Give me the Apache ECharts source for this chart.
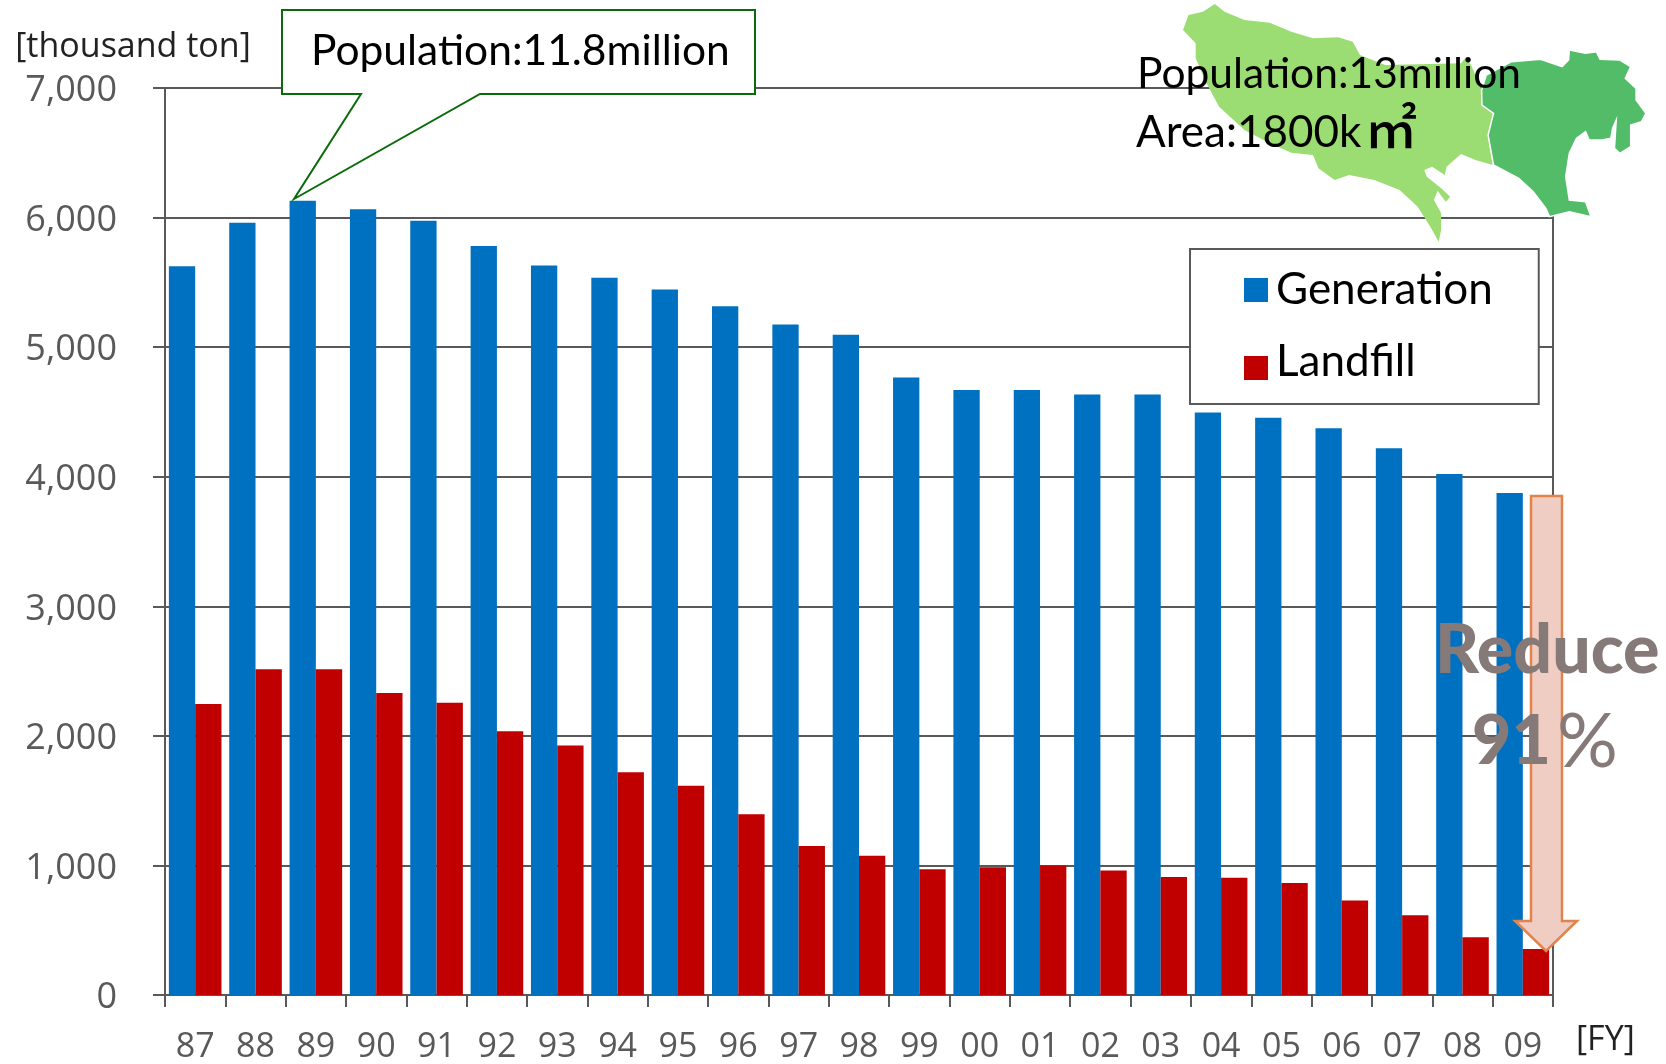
<!DOCTYPE html>
<html>
<head>
<meta charset="utf-8">
<style>
  html, body { margin: 0; padding: 0; background: #fff; }
  #myChart { width: 1666px; height: 1064px; }
</style>
<script src="https://cdn.jsdelivr.net/npm/echarts@6/dist/echarts.min.js"></script>
</head>
<body>
<div id="myChart"></div>
<script>
const years = ["87","88","89","90","91","92","93","94","95","96","97","98","99","00","01","02","03","04","05","06","07","08","09"];
const generation = [5625,5960,6130,6065,5975,5780,5630,5535,5445,5315,5175,5095,4765,4670,4670,4635,4635,4495,4455,4375,4220,4020,3875];
const landfill = [2245,2515,2515,2330,2255,2035,1925,1720,1615,1395,1150,1075,970,985,1000,960,910,905,865,730,615,445,355];

const mapLight = [[318,12],[345,35],[400,60],[470,68],[530,95],[590,115],[660,112],[700,125],[720,165],[790,195],[1000,190],[1015,170],[1030,200],[1057,270],[1058,315],[1090,340],[1075,405],[1088,495],[1040,480],[1000,462],[960,500],[955,525],[920,500],[898,510],[905,530],[945,565],[970,590],[958,605],[935,572],[925,600],[945,640],[945,690],[938,725],[915,680],[880,620],[830,570],[760,540],[690,525],[650,540],[605,505],[590,465],[530,458],[470,430],[400,390],[330,320],[295,250],[265,175],[265,130],[230,90],[245,45],[285,35]];
const mapDark = [[1057,270],[1070,225],[1140,185],[1220,178],[1280,200],[1298,180],[1300,150],[1345,160],[1375,155],[1385,178],[1440,180],[1470,200],[1455,235],[1485,265],[1485,300],[1512,340],[1500,365],[1470,375],[1470,440],[1440,460],[1425,445],[1430,360],[1420,385],[1415,415],[1390,420],[1355,420],[1345,395],[1320,415],[1300,460],[1290,530],[1300,600],[1345,605],[1360,650],[1300,635],[1245,650],[1235,625],[1200,575],[1160,535],[1090,495],[1075,405],[1090,340],[1058,315]];
const toPage = p => [1100 + p[0] / 2.77, p[1] / 3];

const axisColor = "#595959";
const numFont = "'Open Sans'";
const textFont = "Lato, 'Noto Sans CJK JP'";
const reduceColor = "#857a78";

function label(text, x, y, size, extra) {
  return {
    type: "text", x: x, y: y, z: 20,
    style: Object.assign({ text: text, font: size + "px " + textFont, fill: "#000", verticalAlign: "middle" }, extra)
  };
}

let myChart = echarts.init(document.getElementById("myChart"));
myChart.setOption({
  animation: false,
  backgroundColor: "#fff",
  grid: { left: 165, right: 113, top: 88, bottom: 67, show: true, borderColor: axisColor, borderWidth: 2, containLabel: false },
  legend: {
    orient: "vertical", left: 1190, top: 249,
    padding: [19, 46, 20, 54],
    itemWidth: 24, itemHeight: 24, itemGap: 28, icon: "rect",
    backgroundColor: "#fff", borderColor: axisColor, borderWidth: 2, borderRadius: 0,
    formatter: name => name === "Landfill" ? "{up|Landfill}" : name,
    textStyle: {
      fontFamily: "Lato", fontSize: 44, color: "#000", width: 213, padding: [0, 0, 0, 3],
      rich: { up: { fontFamily: "Lato", fontSize: 44, color: "#000", padding: [0, 0, 12, 0] } }
    },
    data: ["Generation", "Landfill"]
  },
  xAxis: {
    type: "category", data: years,
    name: "[FY]", nameLocation: "end", nameGap: 23,
    nameTextStyle: { fontFamily: numFont, fontSize: 34, color: "#222", verticalAlign: "top", padding: [28, 0, 0, 0] },
    axisLine: { lineStyle: { color: axisColor, width: 2 } },
    axisTick: { show: true, length: 12, alignWithLabel: false, inside: false, lineStyle: { color: axisColor, width: 2 } },
    axisLabel: { interval: 0, margin: 35, fontFamily: numFont, fontSize: 34, color: axisColor },
    splitLine: { show: false }
  },
  yAxis: {
    type: "value", min: 0, max: 7000, interval: 1000,
    name: "[thousand ton]", nameLocation: "end", nameGap: 24,
    nameTextStyle: { fontFamily: numFont, fontSize: 34, color: "#222", align: "center", padding: [0, 64, 0, 0] },
    axisLine: { show: true, lineStyle: { color: axisColor, width: 2 } },
    axisTick: { show: true, length: 12, lineStyle: { color: axisColor, width: 2 } },
    axisLabel: { margin: 48, fontFamily: numFont, fontSize: 36, color: axisColor, verticalAlign: "top", lineHeight: 6 },
    splitLine: { show: true, lineStyle: { color: axisColor, width: 2 } }
  },
  series: [
    { name: "Generation", type: "bar", data: generation, barWidth: 26.3, barGap: 0, itemStyle: { color: "#0070c0" } },
    { name: "Landfill", type: "bar", data: landfill, barWidth: 26.3, barGap: 0, itemStyle: { color: "#c00000" } }
  ],
  graphic: { elements: [
    { type: "polygon", z: 10, shape: { points: mapLight.map(toPage) }, style: { fill: "#9bdd72" } },
    { type: "polygon", z: 11, shape: { points: mapDark.map(toPage) }, style: { fill: "#53bc69", stroke: "#fff", lineWidth: 1.5 } },
    label("Population:13million", 1137, 74, 42.5),
    label("Area:1800k", 1136, 133, 44),
    label("㎡", 1365, 128, 52, { font: "500 52px 'Noto Sans CJK JP'" }),

    { type: "polygon", z: 12, shape: { points: [[282,10],[755,10],[755,94],[480,94],[294,199],[361,94],[282,94]] },
      style: { fill: "#fff", stroke: "#0b6b0b", lineWidth: 2 } },
    label("Population:11.8million", 311, 51, 42.5),

    { type: "polygon", z: 12, shape: { points: [[1531,496],[1562,496],[1562,921],[1577,921],[1546,951],[1515,921],[1531,921]] },
      style: { fill: "#f0cdc2", stroke: "#e0844c", lineWidth: 2.5 } },
    label("Reduce", 1435, 651, 68, { font: "900 68px Lato", fill: reduceColor }),
    label("91", 1472, 742, 68, { font: "900 68px Lato", fill: reduceColor }),
    label("%", 1557, 742, 76, { font: "400 76px Lato", fill: reduceColor })
  ] }
});
</script>
</body>
</html>
